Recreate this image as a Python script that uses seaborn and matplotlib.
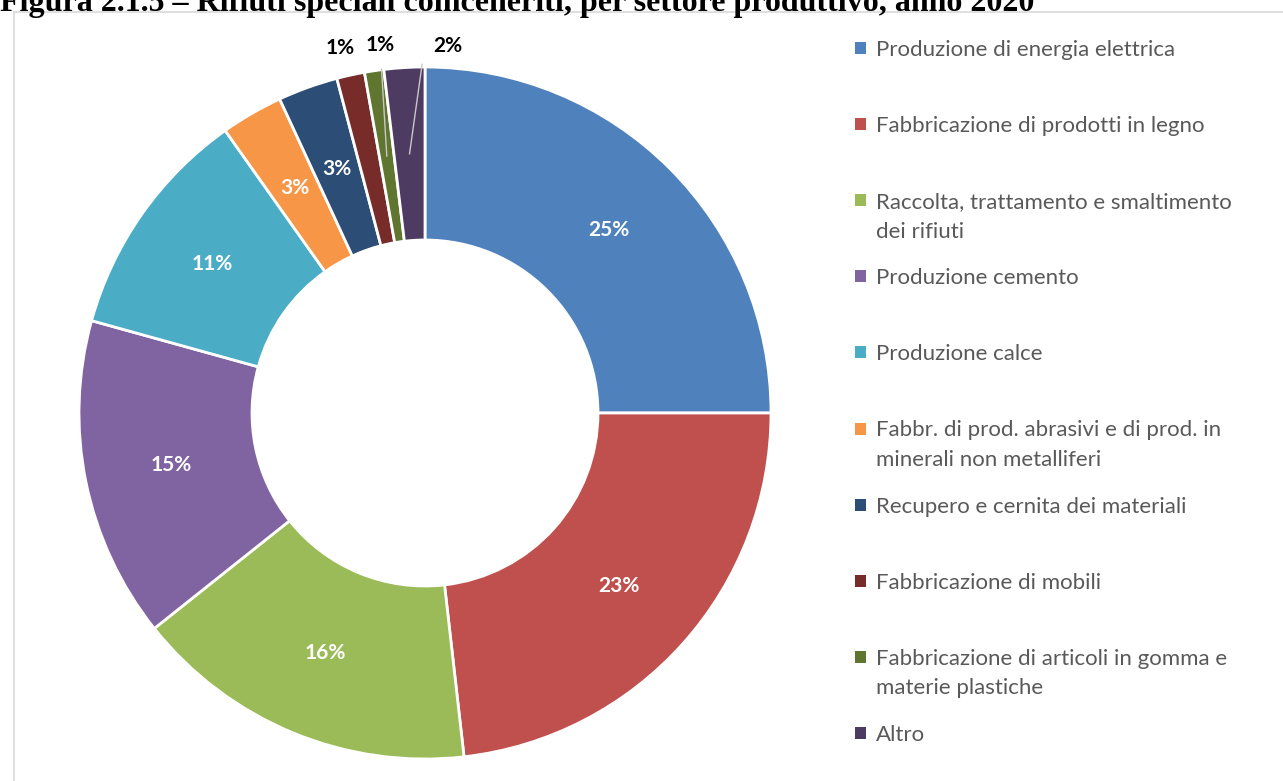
import numpy as np
import seaborn as sns
import matplotlib.pyplot as plt
from matplotlib.lines import Line2D
from matplotlib.patches import Rectangle

sns.set_style("white")
plt.rcParams['font.family'] = ['Lato', 'DejaVu Sans']

title = "Figura 2.1.5 \u2013 Rifiuti speciali coinceneriti, per settore produttivo, anno 2020"

sectors = ["Produzione di energia elettrica",
           "Fabbricazione di prodotti in legno",
           "Raccolta, trattamento e smaltimento\ndei rifiuti",
           "Produzione cemento",
           "Produzione calce",
           "Fabbr. di prod. abrasivi e di prod. in\nminerali non metalliferi",
           "Recupero e cernita dei materiali",
           "Fabbricazione di mobili",
           "Fabbricazione di articoli in gomma e\nmaterie plastiche",
           "Altro"]
shares = [25.0, 23.2, 16.1, 15.0, 10.9, 2.9, 2.8, 1.3, 0.9, 1.9]
pct_labels = ["25%", "23%", "16%", "15%", "11%", "3%", "3%", "1%", "1%", "2%"]
colors = ["#4F81BD", "#C0504D", "#9BBB59", "#8064A2", "#4BACC6",
          "#F79646", "#2C4D75", "#772C2A", "#5F7530", "#4D3B62"]
palette = sns.color_palette(colors)

W, H = 1283, 781
fig = plt.figure(figsize=(W / 100, H / 100), dpi=100)

# chart area border
fig.add_artist(Line2D([14 / W, 14 / W], [0, 1 - 12 / H], color="#d9d9d9", lw=1.2))
fig.add_artist(Line2D([14 / W, 1], [1 - 12 / H, 1 - 12 / H], color="#d9d9d9", lw=1.2))

# title, cut at the top edge as in the source
fig.text(0.0, 1 - 11 / H, title, ha="left", va="baseline", fontsize=23,
         fontweight="bold", family="Liberation Serif", color="black")

cx, cy, R = 425, 413, 346
ax = fig.add_axes([(cx - R) / W, (H - cy - R) / H, 2 * R / W, 2 * R / H])
wedges, _ = ax.pie(shares, colors=palette, startangle=90, counterclock=False,
                   wedgeprops=dict(width=0.5, edgecolor="white", linewidth=2))
ax.set_xlim(-1, 1)
ax.set_ylim(-1, 1)
ax.set_aspect("equal")
ax.axis("off")

# outside labels for the thin slices (text position in data units)
outside = {7: (-0.245, 1.055), 8: (-0.13, 1.065), 9: (0.065, 1.06)}
leader = {8: "straight", 9: "kink"}
fs = 15

for i, w in enumerate(wedges):
    mid = np.deg2rad((w.theta1 + w.theta2) / 2)
    if i not in outside:
        ax.text(0.75 * np.cos(mid), 0.75 * np.sin(mid), pct_labels[i],
                ha="center", va="center", color="white", fontsize=fs,
                fontweight="bold")
    else:
        tx, ty = outside[i]
        px, py = 0.75 * np.cos(mid), 0.75 * np.sin(mid)
        if i in leader:
            if leader[i] == "straight":
                ax.annotate(pct_labels[i], xy=(px, py), xytext=(tx, ty),
                            ha="center", va="center", fontsize=fs,
                            fontweight="bold", color="black",
                            arrowprops=dict(arrowstyle="-", color="#c8c8c8", lw=1,
                                            shrinkA=8, shrinkB=0))
            else:
                ax.annotate(pct_labels[i], xy=(px, py), xytext=(tx, ty),
                            ha="center", va="center", fontsize=fs,
                            fontweight="bold", color="black",
                            arrowprops=dict(arrowstyle="-", color="#c8c8c8", lw=1,
                                            shrinkA=14, shrinkB=0,
                                            connectionstyle="angle,angleA=180,angleB=82,rad=0"))
        else:
            ax.text(tx, ty, pct_labels[i], ha="center", va="center",
                    fontsize=fs, fontweight="bold", color="black")

# legend drawn as Excel lays it out: fixed slots, first line aligned to the marker
y0, step = 48, 76.1
for i, lab in enumerate(sectors):
    y = y0 + step * i
    fig.add_artist(Rectangle((855 / W, 1 - (y + 6) / H), 11 / W, 12 / H,
                             facecolor=palette[i], edgecolor="none"))
    fig.text(876 / W, 1 - (y - 8) / H, lab, ha="left", va="top", fontsize=16,
             color="#595959", linespacing=1.6)

fig.savefig("out.png", dpi=100)
